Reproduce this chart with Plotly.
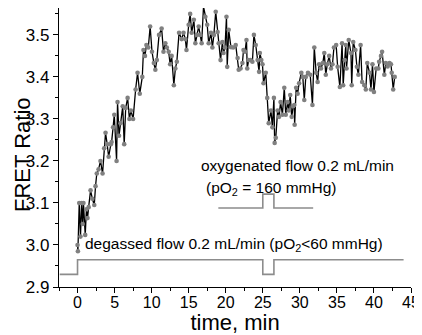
import plotly.graph_objects as go

# FRET ratio time course (minutes, ratio)
time_min = [
    0.0, 0.05, 0.23, 0.4, 0.55, 0.7, 0.8, 1.04, 1.2, 1.35,
    1.5, 1.76, 2.0, 2.26, 2.43, 2.6, 2.84, 3.1, 3.38, 3.6,
    3.78, 4.0, 4.2, 4.5, 4.6, 4.8, 4.96, 5.27, 5.4, 5.6,
    5.8, 6.1, 6.3, 6.5, 6.76, 7.0, 7.2, 7.5, 7.84, 8.1,
    8.4, 8.74, 8.9, 9.1, 9.3, 9.55, 9.8, 10.05, 10.3, 10.5,
    10.7, 11.0, 11.35, 11.6, 11.85, 12.05, 12.3, 12.5, 12.7, 13.0,
    13.2, 13.4, 13.7, 14.05, 14.3, 14.55, 14.7, 15.0, 15.2, 15.4,
    15.7, 15.9, 16.1, 16.35, 16.55, 16.75, 17.0, 17.25, 17.5, 17.7,
    18.0, 18.2, 18.4, 18.65, 18.9, 19.05, 19.3, 19.55, 19.7, 19.9,
    20.1, 20.2, 20.4, 20.7, 21.0, 21.35, 21.6, 21.75, 22.0, 22.25,
    22.4, 22.6, 22.8, 22.9, 23.1, 23.35, 23.6, 23.8, 24.05, 24.3,
    24.5, 24.6, 24.8, 24.96, 25.1, 25.4, 25.6, 25.8, 26.1, 26.3,
    26.5, 26.6, 26.75, 27.0, 27.2, 27.4, 27.65, 27.9, 28.1, 28.35,
    28.5, 28.7, 28.9, 29.1, 29.25, 29.3, 29.5, 29.7, 29.9, 30.2,
    30.4, 30.6, 30.8, 31.1, 31.4, 31.7, 31.95, 32.2, 32.4, 32.6,
    32.85, 33.1, 33.3, 33.5, 33.7, 33.96, 34.2, 34.4, 34.6, 34.9,
    35.1, 35.4, 35.7, 35.85, 36.05, 36.2, 36.3, 36.6, 36.9, 37.0,
    37.2, 37.5, 37.7, 37.9, 38.2, 38.4, 38.7, 38.9, 39.1, 39.4,
    39.6, 39.8, 40.0, 40.3, 40.6, 40.7, 40.95, 41.1, 41.4, 41.6,
    41.85, 42.1, 42.3, 42.4, 42.6, 42.8,
]
fret_ratio = [
    3.00, 2.985, 3.10, 3.02, 3.10, 3.05, 3.10, 3.024, 3.085, 3.064,
    3.09, 3.13, 3.11, 3.095, 3.14, 3.17, 3.18, 3.20, 3.17, 3.23,
    3.267, 3.24, 3.21, 3.24, 3.245, 3.28, 3.31, 3.20, 3.34, 3.26,
    3.29, 3.33, 3.24, 3.326, 3.35, 3.30, 3.32, 3.30, 3.37, 3.41,
    3.36, 3.40, 3.464, 3.45, 3.476, 3.47, 3.52, 3.46, 3.433, 3.417,
    3.44, 3.50, 3.515, 3.46, 3.48, 3.47, 3.46, 3.43, 3.45, 3.38,
    3.42, 3.436, 3.505, 3.49, 3.505, 3.49, 3.464, 3.524, 3.55, 3.505,
    3.536, 3.48, 3.50, 3.52, 3.50, 3.48, 3.567, 3.543, 3.524, 3.48,
    3.505, 3.47, 3.50, 3.555, 3.507, 3.48, 3.44, 3.483, 3.457, 3.47,
    3.543, 3.424, 3.512, 3.471, 3.47, 3.476, 3.445, 3.417, 3.42, 3.433,
    3.464, 3.46, 3.488, 3.42, 3.44, 3.44, 3.436, 3.50, 3.476, 3.44,
    3.412, 3.457, 3.44, 3.43, 3.385, 3.41, 3.35, 3.29, 3.32, 3.28,
    3.35, 3.243, 3.255, 3.32, 3.305, 3.34, 3.31, 3.374, 3.31, 3.34,
    3.32, 3.357, 3.305, 3.33, 3.333, 3.286, 3.374, 3.36, 3.385, 3.41,
    3.40, 3.345, 3.40, 3.41, 3.405, 3.333, 3.47, 3.41, 3.388, 3.43,
    3.42, 3.433, 3.457, 3.405, 3.43, 3.45, 3.42, 3.43, 3.47, 3.476,
    3.424, 3.376, 3.48, 3.38, 3.44, 3.476, 3.42, 3.488, 3.457, 3.38,
    3.483, 3.464, 3.424, 3.405, 3.476, 3.388, 3.38, 3.37, 3.433, 3.41,
    3.37, 3.43, 3.364, 3.42, 3.42, 3.436, 3.45, 3.46, 3.405, 3.433,
    3.425, 3.433, 3.43, 3.41, 3.37, 3.40,
]

# Flow protocol step traces
degassed_t = [-2.4, 0, 25, 26.5, 44]
degassed_y = [2.93, 2.965, 2.93, 2.965, 2.965]
oxy_t = [19, 25, 26.5, 31.8]
oxy_y = [3.088, 3.121, 3.088, 3.088]

x_ticks = [0, 5, 10, 15, 20, 25, 30, 35, 40, 45]
y_ticks = [2.9, 3.0, 3.1, 3.2, 3.3, 3.4, 3.5]

FONT = "Liberation Sans, Arial, sans-serif"
L_MARGIN = 51
PLOT_W = 352

fig = go.Figure()
fig.add_trace(go.Scatter(x=degassed_t, y=degassed_y, mode="lines",
                         line=dict(color="#8c8c8c", width=1.6, shape="hv"),
                         hoverinfo="skip"))
fig.add_trace(go.Scatter(x=oxy_t, y=oxy_y, mode="lines",
                         line=dict(color="#8c8c8c", width=1.6, shape="hv"),
                         hoverinfo="skip"))
fig.add_trace(go.Scatter(x=time_min, y=fret_ratio, mode="lines+markers",
                         line=dict(color="black", width=1.3),
                         marker=dict(color="#808080", size=4.6),
                         cliponaxis=False))

fig.add_annotation(x=16.4, y=3.19, xanchor="left", yanchor="middle",
                   text="oxygenated flow 0.2 mL/min", showarrow=False,
                   font=dict(size=15.5, color="black", family=FONT))
fig.add_annotation(x=17.0, y=3.135, xanchor="left", yanchor="middle",
                   text="(pO<sub>2</sub> = 160 mmHg)", showarrow=False,
                   font=dict(size=15.5, color="black", family=FONT))
fig.add_annotation(x=0.8, y=3.0, xanchor="left", yanchor="middle",
                   text="degassed flow 0.2 mL/min (pO<sub>2</sub><60 mmHg)", showarrow=False,
                   font=dict(size=15.5, color="black", family=FONT))
# y-axis title placed close to the left edge, as in the reference
fig.add_annotation(xref="paper", yref="paper", x=-L_MARGIN / PLOT_W, y=0.475,
                   xanchor="left", yanchor="middle", textangle=-90, xshift=1,
                   text="FRET Ratio", showarrow=False, borderpad=0,
                   font=dict(size=22, color="black", family=FONT))

fig.update_layout(
    width=414, height=327,
    margin=dict(l=L_MARGIN, r=11, t=0, b=48, autoexpand=False),
    plot_bgcolor="white", paper_bgcolor="white",
    showlegend=False,
    font=dict(family=FONT, color="black"),
)
fig.update_xaxes(
    range=[-2.5, 45], tickvals=x_ticks, ticktext=[str(v) for v in x_ticks],
    showline=True, linecolor="black", linewidth=1.2, mirror=False,
    ticks="outside", ticklen=5, tickwidth=1.2, tickcolor="black",
    ticklabelstandoff=-4,
    minor=dict(dtick=2.5, tick0=0, ticks="outside", ticklen=3, tickcolor="black", tickwidth=1),
    showgrid=False, zeroline=False,
    tickfont=dict(size=16, family=FONT),
    title=dict(text="time, min", font=dict(size=22, family=FONT), standoff=4),
)
fig.update_yaxes(
    range=[2.9, 3.564], tickvals=y_ticks, ticktext=[f"{v:.1f}" for v in y_ticks],
    showline=True, linecolor="black", linewidth=1.2, mirror=False,
    ticks="outside", ticklen=5, tickwidth=1.2, tickcolor="black",
    minor=dict(dtick=0.05, tick0=2.9, ticks="outside", ticklen=3, tickcolor="black", tickwidth=1),
    showgrid=False, zeroline=False,
    tickfont=dict(size=17, family=FONT),
)

fig.write_html("out.html")
